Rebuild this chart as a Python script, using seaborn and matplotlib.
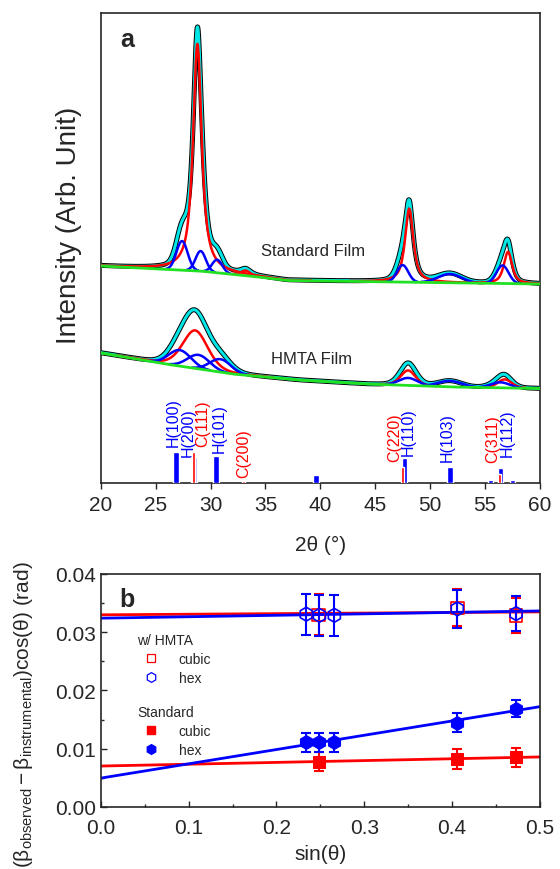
import numpy as np
import pandas as pd
import matplotlib
matplotlib.use('Agg')
import matplotlib.pyplot as plt
import seaborn as sns
from matplotlib.lines import Line2D

sns.set_style('ticks')
plt.rcParams['font.family'] = ['Liberation Sans', 'DejaVu Sans']
plt.rcParams['mathtext.fontset'] = 'custom'
plt.rcParams['mathtext.rm'] = 'Liberation Sans'
plt.rcParams['mathtext.it'] = 'Liberation Sans:italic'
plt.rcParams['mathtext.bf'] = 'Liberation Sans:bold'

# ------------------------------------------------------------------ panel a data
# baselines (2theta, intensity)
std_base_x = [20, 29, 34, 37, 60]
std_base_y = [217, 212, 206.5, 202.5, 199]
hmta_base_x = [20, 25.9, 32, 38, 44.2, 52, 60]
hmta_base_y = [130, 119, 109, 103, 99, 96, 94.5]

# fitted peak components: centre, height above baseline, FWHM, Lorentz fraction, colour
std_pk_center = [28.8, 27.4, 29.1, 30.6, 33.2, 48.1, 47.5, 51.8, 57.1, 56.6]
std_pk_height = [227, 29, 20, 13, 5, 73.5, 17, 8.7, 31.7, 18]
std_pk_fwhm = [0.95, 1.2, 1.1, 1.1, 1.0, 0.9, 1.2, 2.5, 0.9, 1.3]
std_pk_eta = [0.85, 0.0, 0.0, 0.0, 0.5, 0.8, 0.0, 0.0, 0.7, 0.0]
std_pk_color = ['red', 'blue', 'blue', 'blue', 'red', 'red', 'blue', 'blue', 'red', 'blue']

hmta_pk_center = [28.6, 27.2, 28.9, 30.9, 48.0, 48.0, 51.8, 56.8, 56.4]
hmta_pk_height = [38, 16, 14, 13, 15, 7.5, 6, 8.5, 5.5]
hmta_pk_fwhm = [2.7, 2.4, 2.4, 2.3, 1.6, 2.0, 2.5, 1.5, 2.0]
hmta_pk_eta = [0.3, 0.0, 0.0, 0.0, 0.3, 0.0, 0.0, 0.3, 0.0]
hmta_pk_color = ['red', 'blue', 'blue', 'blue', 'red', 'blue', 'blue', 'red', 'blue']

# reference stick pattern
ref_bar_x = [26.85, 28.5, 28.45, 30.5, 33.0, 39.6, 47.65, 47.5, 51.8, 55.5, 56.4, 56.3, 57.5]
ref_bar_h = [31, 26, 31, 27, 2, 8, 25, 16, 16, 3, 15, 9, 3]
ref_bar_kind = ['H', 'Hl', 'C', 'H', 'C', 'H', 'H', 'C', 'H', 'H', 'H', 'C', 'H']

ref_label_text = ['H(100)', 'H(200)', 'C(111)', 'H(101)', 'C(200)', 'C(220)',
                  'H(110)', 'H(103)', 'C(311)', 'H(112)']
ref_label_x = [26.6, 28.0, 29.25, 30.8, 33.0, 46.8, 48.05, 51.6, 55.7, 57.0]
ref_label_y = [37, 27, 37, 31, 6, 22, 28, 22, 21, 27]

# ------------------------------------------------------------------ panel b data
sin_hmta_cubic = [0.248, 0.406, 0.473]
w_hmta_cubic = [0.0330, 0.0342, 0.0329]
e_hmta_cubic = [0.0035, 0.0032, 0.0030]
sin_hmta_hex = [0.234, 0.249, 0.266, 0.406, 0.473]
w_hmta_hex = [0.0331, 0.0329, 0.0329, 0.0340, 0.0332]
e_hmta_hex = [0.0035, 0.0035, 0.0035, 0.0032, 0.0030]
sin_std_cubic = [0.248, 0.406, 0.473]
w_std_cubic = [0.0078, 0.0083, 0.0085]
e_std_cubic = [0.0017, 0.0017, 0.0017]
sin_std_hex = [0.234, 0.249, 0.266, 0.406, 0.473]
w_std_hex = [0.0111, 0.0111, 0.0111, 0.0145, 0.0169]
e_std_hex = [0.0016, 0.0016, 0.0016, 0.0016, 0.0015]

RED = '#ff0000'
BLUE = '#0000ff'
CYAN = '#00e6e6'
GREEN = '#22e022'
LBLUE = '#a8a8ff'


def component(x, c, h, w, eta):
    hw = w / 2.0
    lor = 1.0 / (1.0 + ((x - c) / hw) ** 2)
    gau = np.exp(-np.log(2) * ((x - c) / hw) ** 2)
    return h * (eta * lor + (1 - eta) * gau)


fig = plt.figure(figsize=(5.6, 8.7), dpi=100)
ax1 = fig.add_axes([0.180, 0.4437, 0.784, 0.5402])
ax2 = fig.add_axes([0.180, 0.0713, 0.784, 0.2678])

xg = np.linspace(20, 60, 1601)


def draw_film(ax, bx, by, cen, hei, fw, eta, col):
    base = np.interp(xg, bx, by)
    comps = [component(xg, c, h, w, e) for c, h, w, e in zip(cen, hei, fw, eta)]
    total = base + np.sum(comps, axis=0)
    df = pd.DataFrame({'x': xg, 'total': total, 'base': base})
    sns.lineplot(data=df, x='x', y='total', ax=ax, color='black', lw=3.6, zorder=2, sort=False)
    sns.lineplot(data=df, x='x', y='total', ax=ax, color=CYAN, lw=2.2, zorder=3, sort=False)
    for comp, c in zip(comps, col):
        yy = np.where(comp > 0.4, base + comp, np.nan)
        sns.lineplot(x=xg, y=yy, ax=ax, color=RED if c == 'red' else BLUE, lw=1.8, zorder=4, sort=False)
    sns.lineplot(data=df, x='x', y='base', ax=ax, color=GREEN, lw=2.0, zorder=5, sort=False)


draw_film(ax1, std_base_x, std_base_y, std_pk_center, std_pk_height, std_pk_fwhm, std_pk_eta, std_pk_color)
draw_film(ax1, hmta_base_x, hmta_base_y, hmta_pk_center, hmta_pk_height, hmta_pk_fwhm, hmta_pk_eta, hmta_pk_color)

for x, h, k in zip(ref_bar_x, ref_bar_h, ref_bar_kind):
    if k == 'C':
        ax1.bar(x, h, width=0.25, color=RED, zorder=6)
    elif k == 'Hl':
        ax1.bar(x, h, width=0.5, color=LBLUE, zorder=5)
    else:
        ax1.bar(x, h, width=0.5, color=BLUE, zorder=5)

for t, x, y in zip(ref_label_text, ref_label_x, ref_label_y):
    ax1.text(x, y, t, rotation=90, ha='center', va='bottom', fontsize=11.5,
             color=RED if t.startswith('C') else BLUE)

ax1.text(39.3, 232, 'Standard Film', ha='center', va='center', fontsize=12)
ax1.text(39.2, 124, 'HMTA Film', ha='center', va='center', fontsize=12)
ax1.text(0.059, 0.945, 'a', transform=ax1.transAxes, ha='center', va='center',
         fontsize=18, fontweight='bold')

ax1.set_xlim(20, 60)
ax1.set_ylim(0, 470)
ax1.set_xticks(np.arange(20, 61, 5))
ax1.set_yticks([])
ax1.tick_params(axis='x', direction='out', length=4.5, width=1, labelsize=15, pad=4)
ax1.set_xlabel('2θ (°)', fontsize=15, labelpad=15)
ax1.set_ylabel('Intensity (Arb. Unit)', fontsize=20)
ax1.yaxis.set_label_coords(-0.042, 0.55)
for s in ax1.spines.values():
    s.set_linewidth(1.2)

# ------------------------------------------------------------------ panel b
ax2.set_xlim(0, 0.5)
ax2.set_ylim(0, 0.04)

fit_kw = dict(scatter=False, ci=None, truncate=False)
sns.regplot(x=sin_hmta_cubic, y=w_hmta_cubic, ax=ax2, color=RED, line_kws=dict(lw=2.0, zorder=2), **fit_kw)
sns.regplot(x=sin_hmta_hex, y=w_hmta_hex, ax=ax2, color=BLUE, line_kws=dict(lw=2.0, zorder=2), **fit_kw)
sns.regplot(x=sin_std_cubic, y=w_std_cubic, ax=ax2, color=RED, line_kws=dict(lw=2.0, zorder=2), **fit_kw)
sns.regplot(x=sin_std_hex, y=w_std_hex, ax=ax2, color=BLUE, line_kws=dict(lw=2.0, zorder=2), **fit_kw)

eb = dict(fmt='none', capsize=3.5, elinewidth=1.5, capthick=1.5, zorder=3)
ax2.errorbar(sin_hmta_cubic, w_hmta_cubic, yerr=e_hmta_cubic, ecolor=RED, **eb)
ax2.errorbar(sin_hmta_hex, w_hmta_hex, yerr=e_hmta_hex, ecolor=BLUE, **eb)
ax2.errorbar(sin_std_cubic, w_std_cubic, yerr=e_std_cubic, ecolor=RED, **eb)
ax2.errorbar(sin_std_hex, w_std_hex, yerr=e_std_hex, ecolor=BLUE, **eb)

sns.scatterplot(x=sin_hmta_cubic, y=w_hmta_cubic, ax=ax2, marker='s', s=80,
                facecolor='none', edgecolor=RED, linewidth=1.2, zorder=4)
sns.scatterplot(x=sin_hmta_hex, y=w_hmta_hex, ax=ax2, marker='h', s=100,
                facecolor='none', edgecolor=BLUE, linewidth=1.2, zorder=4)
sns.scatterplot(x=sin_std_cubic, y=w_std_cubic, ax=ax2, marker='s', s=80,
                color=RED, edgecolor=RED, zorder=4)
sns.scatterplot(x=sin_std_hex, y=w_std_hex, ax=ax2, marker='h', s=100,
                color=BLUE, edgecolor=BLUE, zorder=4)

ax2.set_xticks(np.arange(0, 0.51, 0.1))
ax2.set_xticks(np.arange(0.05, 0.5, 0.1), minor=True)
ax2.set_yticks(np.arange(0, 0.041, 0.01))
ax2.set_yticks(np.arange(0.005, 0.04, 0.01), minor=True)
ax2.xaxis.set_major_formatter(matplotlib.ticker.FormatStrFormatter('%.1f'))
ax2.yaxis.set_major_formatter(matplotlib.ticker.FormatStrFormatter('%.2f'))
ax2.tick_params(which='major', direction='in', length=4, width=1, labelsize=15)
ax2.tick_params(axis='x', which='major', pad=8)
ax2.tick_params(which='minor', direction='in', length=2.5, width=1)
ax2.set_xlabel('sin(θ)', fontsize=15, labelpad=5)
ax2.set_ylabel(r'$\mathregular{(\beta_{observed} - \beta_{instrumental})cos(\theta)\ (rad)}$', fontsize=15)
ax2.yaxis.set_label_coords(-0.15, 0.40)
for s in ax2.spines.values():
    s.set_linewidth(1.2)
ax2.text(0.059, 0.893, 'b', transform=ax2.transAxes, ha='center', va='center',
         fontsize=18, fontweight='bold')

h1 = [Line2D([], [], ls='none', marker='s', ms=6, mfc='none', mec=RED, mew=0.9),
      Line2D([], [], ls='none', marker='h', ms=7, mfc='none', mec=BLUE, mew=0.9)]
leg1 = ax2.legend(h1, ['cubic', 'hex'], title='w/ HMTA', loc='upper left',
                  bbox_to_anchor=(0.07, 0.77), frameon=False, fontsize=10,
                  title_fontsize=10, alignment='left', handletextpad=1.0,
                  borderaxespad=0, labelspacing=0.35)
ax2.add_artist(leg1)
h2 = [Line2D([], [], ls='none', marker='s', ms=6, mfc=RED, mec=RED),
      Line2D([], [], ls='none', marker='h', ms=7, mfc=BLUE, mec=BLUE)]
ax2.legend(h2, ['cubic', 'hex'], title='Standard', loc='upper left',
           bbox_to_anchor=(0.07, 0.46), frameon=False, fontsize=10,
           title_fontsize=10, alignment='left', handletextpad=1.0,
           borderaxespad=0, labelspacing=0.35)

fig.savefig('out.png', dpi=100)
